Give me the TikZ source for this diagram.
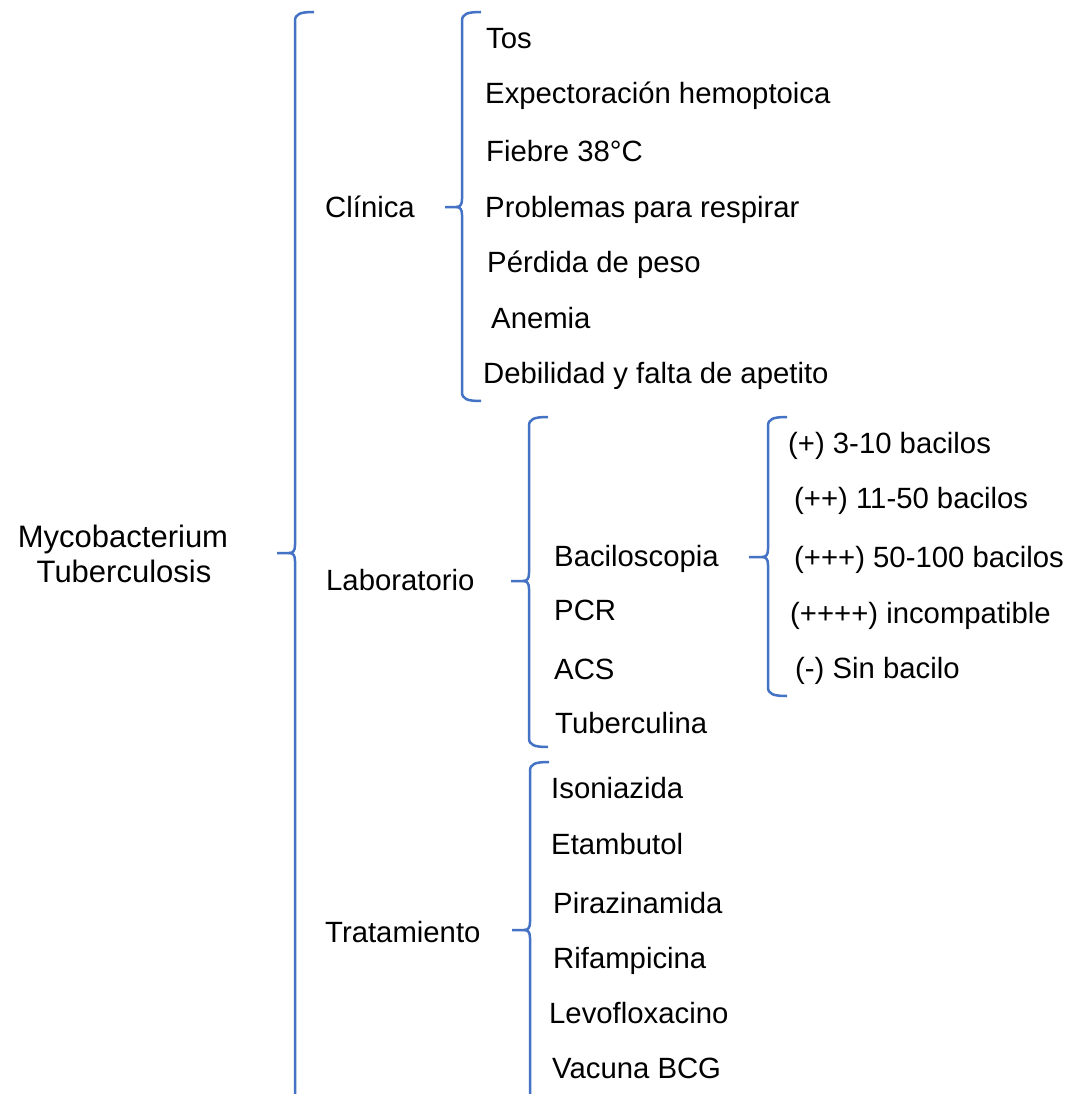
\documentclass[tikz,border=0pt]{standalone}
\usepackage{fontspec}
\setmainfont{Liberation Sans}
\definecolor{bracecol}{HTML}{4472C4}
\newcommand{\mybrace}[5]{% x, top, bottom, tipy, tipx
  \draw[bracecol, line width=2.5pt, line join=round]
    (#1+19,-#2) .. controls (#1+5,-#2) and (#1,-#2-2) .. (#1,-#2-9)
    -- (#1,-#4+8) .. controls (#1,-#4+2) and (#1-2,-#4) .. (#1-6,-#4)
    -- (#5,-#4);
  \draw[bracecol, line width=2.5pt, line join=round]
    (#1-6,-#4) .. controls (#1-2,-#4) and (#1,-#4-2) .. (#1,-#4-8)
    -- (#1,-#3+9) .. controls (#1,-#3+2) and (#1+5,-#3) .. (#1+19,-#3);
}
\begin{document}
\begin{tikzpicture}[x=1pt,y=1pt,
  item/.style={anchor=base west, inner sep=0pt, font=\fontsize{29.3}{35}\selectfont},
  title/.style={anchor=base, inner sep=0pt, font=\fontsize{31}{37}\selectfont}]
\useasboundingbox (0,0) rectangle (1070,-1094);
\clip (0,0) rectangle (1070,-1094);
\fill[white] (0,0) rectangle (1070,-1094);

% braces
\mybrace{295}{12}{1110}{553}{277}
\mybrace{462}{12}{401}{207}{445}
\mybrace{529}{417}{747}{581}{511}
\mybrace{530}{762}{1110}{930}{512}
\mybrace{768}{417}{696}{557}{749}

% root
\node[title] (myco) at (123,-547) {Mycobacterium};
\node[title] (tub) at (124,-582) {Tuberculosis};

% level 1
\node[item] (clin) at (325,-217) {Clínica};
\node[item] (lab) at (326,-590) {Laboratorio};
\node[item] (trat) at (325,-942) {Tratamiento};

% clinica items
\node[item] (c1) at (486,-49) {Tos};
\node[item] (c2) at (485,-104) {Expectoración hemoptoica};
\node[item] (c3) at (486,-162) {Fiebre 38°C};
\node[item] (c4) at (485,-217) {Problemas para respirar};
\node[item] (c5) at (487,-272) {Pérdida de peso};
\node[item] (c6) at (491,-328) {Anemia};
\node[item] (c7) at (483,-383) {Debilidad y falta de apetito};

% laboratorio items
\node[item] (l1) at (554,-566) {Baciloscopia};
\node[item] (l2) at (554,-620) {PCR};
\node[item] (l3) at (554,-679) {ACS};
\node[item] (l4) at (555,-733) {Tuberculina};

% baciloscopia items
\node[item] (b1) at (788,-453) {(+) 3-10 bacilos};
\node[item] (b2) at (794,-508) {(++) 11-50 bacilos};
\node[item] (b3) at (794,-567) {(+++) 50-100 bacilos};
\node[item] (b4) at (790,-623) {(++++) incompatible};
\node[item] (b5) at (795,-678) {(-) Sin bacilo};

% tratamiento items
\node[item] (t1) at (551,-798) {Isoniazida};
\node[item] (t2) at (551,-854) {Etambutol};
\node[item] (t3) at (553,-913) {Pirazinamida};
\node[item] (t4) at (553,-968) {Rifampicina};
\node[item] (t5) at (549,-1023) {Levofloxacino};
\node[item] (t6) at (552,-1078) {Vacuna BCG};
\end{tikzpicture}
\end{document}
